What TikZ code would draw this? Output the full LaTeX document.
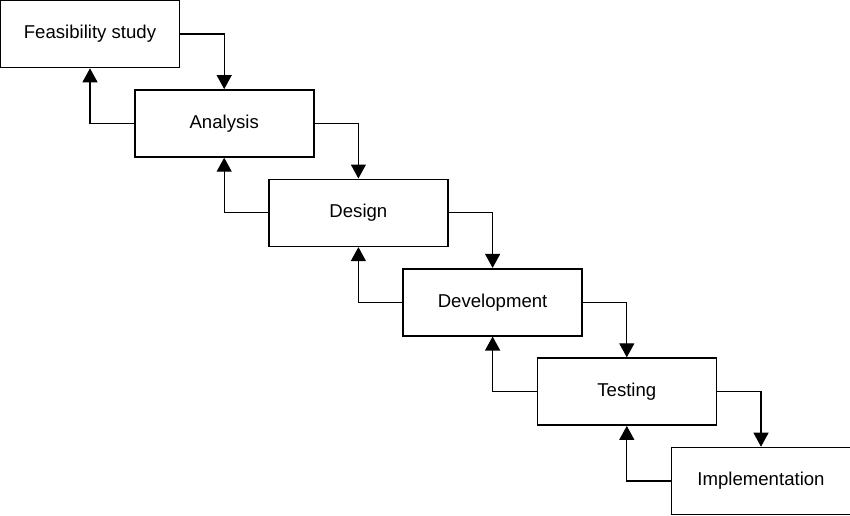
\documentclass[tikz,border=0pt]{standalone}
\usepackage{fontspec}
\setmainfont{Liberation Sans}
\usetikzlibrary{arrows.meta, positioning}

\tikzset{
	stage/.style={draw, line width=0.8pt, minimum width=89.5pt, minimum height=33.5pt, inner sep=0pt, font=\fontsize{9.3}{11}\selectfont},
	flow/.style={line width=0.6pt, -{Triangle[width=7.5pt, length=7pt]}}
}

\begin{document}
\begin{tikzpicture}[x=0.5pt, y=-0.5pt]
		\useasboundingbox (0,0) rectangle (850,515);
		% stages of the waterfall
		\foreach \name/\txt [count=\i from 0] in {feas/Feasibility study, anal/Analysis, desg/Design, devl/Development, test/Testing, impl/Implementation}{
			\node [stage] (\name) at (90+134.2*\i, 34+89.4*\i) {\txt};
		}
		
		% forward and back arrows
		\foreach \a/\b in {feas/anal, anal/desg, desg/devl, devl/test, test/impl}{
			\draw[flow] (\a.east) -| (\b.north); %forward
			\draw[flow] (\b.west) -| (\a.south); %back
		}
	\end{tikzpicture}
\end{document}
